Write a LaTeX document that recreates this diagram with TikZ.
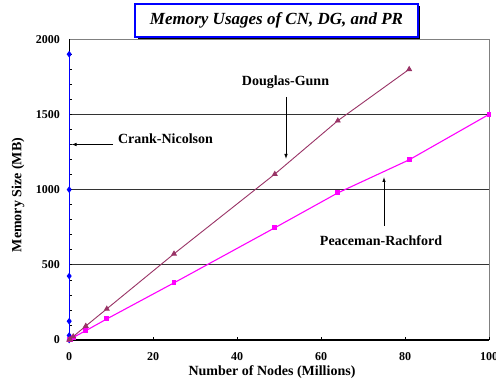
\documentclass[tikz,border=0pt]{standalone}
\usepackage{fontspec}
\setmainfont{Liberation Serif}
\usetikzlibrary{plotmarks,arrows.meta}
\definecolor{dgcol}{HTML}{993366}
\definecolor{prcol}{HTML}{FF00FF}
\definecolor{cncol}{HTML}{0000FF}
\tikzset{
  lbl/.style={font=\fontsize{14}{16}\selectfont\bfseries, inner sep=0pt},
  ticklbl/.style={font=\fontsize{12}{14}\selectfont\bfseries, inner sep=0pt},
  grid line/.style={draw=black!80, line width=0.8pt},
  frame line/.style={draw=black!50, line width=1pt},
  axis line/.style={draw=black, line width=1.2pt},
  note arrow/.style={draw=black, line width=0.8pt, -{Latex[length=5pt,width=3.5pt]}},
  dgline/.style={draw=dgcol, line width=0.9pt, mark=triangle*, mark size=2.6pt, mark options={fill=dgcol, draw=dgcol}},
  prline/.style={draw=prcol, line width=1.1pt, mark=square*, mark size=1.9pt, mark options={fill=prcol, draw=prcol}},
  cnline/.style={draw=cncol, line width=1.4pt, mark=diamond*, mark size=2.2pt, mark options={fill=cncol, draw=cncol}},
}
\begin{document}
\begin{tikzpicture}[x=1pt,y=-1pt]
\useasboundingbox (0,0) rectangle (496,385);
\fill[white] (0,0) rectangle (496,385);
% data scope
\begin{scope}[shift={(69,340)}, x=4.2pt, y=0.1504pt]
  \foreach \v in {500,1000,1500} \draw[grid line] (0,\v) -- (100,\v);
  \draw[frame line] (0,2000) -- (100,2000) -- (100,0);
  \foreach \v in {100,200,...,1900} \draw[black, line width=0.6pt] (0,\v) -- ++(3pt,0);
  \foreach \u in {20,40,60,80,100} \draw[black, line width=0.6pt] (\u,0) -- ++(0,3pt);
  \draw[axis line] (0,0) -- (100,0);
  \draw[black, line width=1pt] (0,0) -- (0,2000);
  \foreach \v in {0,500,1000,1500,2000}
    \node[ticklbl, anchor=east] (yl\v) at ([xshift=-9pt]0,\v) {\v};
  \foreach \u in {0,20,40,60,80,100}
    \node[ticklbl] (xl\u) at ([yshift=-17pt]\u,0) {\u};
  \draw[cnline] plot coordinates {(0.05,0) (0.05,30) (0.05,125) (0.05,425) (0.05,1000) (0.05,1900)};
  \draw[prline] plot coordinates {(0.0625,1) (0.25,4) (1,17) (4,62) (9,140) (25,380) (49,746) (64,978) (81,1198) (100,1500)};
  \draw[dgline] plot coordinates {(0.0625,1.5) (0.25,6) (1,23) (4,93) (9,207) (25,573) (49,1103) (64,1458) (81,1800)};
\end{scope}
% axis titles
\node[lbl] (xtitle) at (272,372) {Number of Nodes (Millions)};
\node[lbl, rotate=90] (ytitle) at (18,195) {Memory Size (MB)};
% annotations
\node[lbl] (dg) at (285.5,82) {Douglas-Gunn};
\node[lbl] (cn) at (165.5,139) {Crank-Nicolson};
\node[lbl] (pr) at (381,241) {Peaceman-Rachford};
\coordinate (dgs) at (286,97);
\coordinate (dge) at (286,159);
\coordinate (cns) at (113,144.5);
\coordinate (cne) at (71.5,144.5);
\coordinate (prs) at (384,226);
\coordinate (pre) at (384,177);
\draw[note arrow] (dgs) -- (dge);
\draw[note arrow] (cns) -- (cne);
\draw[note arrow] (prs) -- (pre);
% title
\fill[black] (137.5,6.5) rectangle (420,39);
\node[draw=cncol, line width=1.2pt, fill=white, minimum width=283pt, minimum height=33pt, inner sep=0pt,
      font=\fontsize{17}{20}\selectfont\bfseries\itshape] (title) at (276.5,20.5) {Memory Usages of CN, DG, and PR};
\end{tikzpicture}
\end{document}
